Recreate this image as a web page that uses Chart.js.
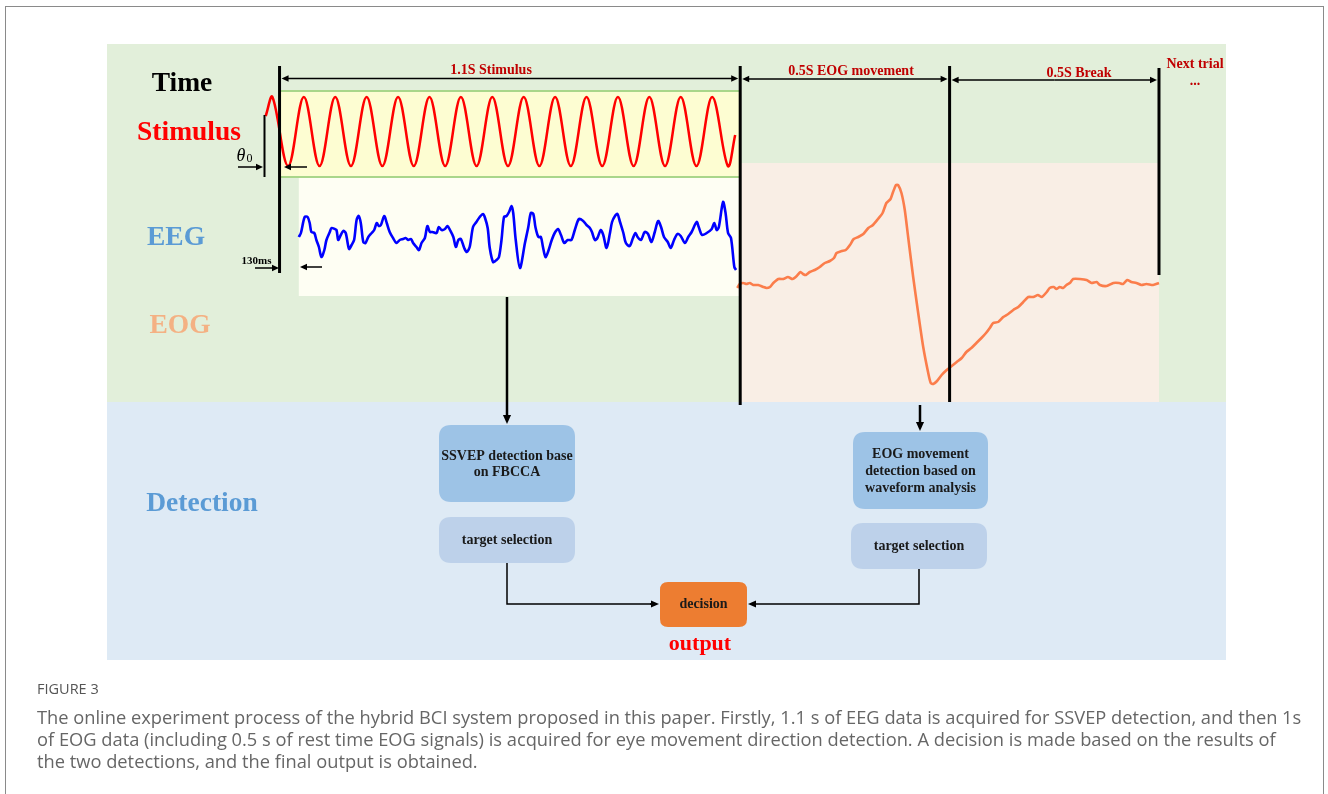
<!DOCTYPE html>
<html>
<head>
<meta charset="utf-8">
<script src="https://cdn.jsdelivr.net/npm/chart.js@4.4.1/dist/chart.umd.min.js"></script>
<style>
  body { margin: 0; background: #fff; width: 1328px; height: 794px; overflow: hidden; position: relative; }
  #frame { position: absolute; left: 5px; top: 6px; width: 1319px; height: 900px; border: 1.5px solid #8a8a8a; box-sizing: border-box; }
  #c { position: absolute; left: 0; top: 0; }
  #cap { position: absolute; left: 37px; top: 679px; font-family: "Open Sans", sans-serif; color: #666; }
  #cap .fig { font-size: 14.5px; color: #555; line-height: 20px; margin-bottom: 7px; }
  #cap .l { font-size: 18.3px; line-height: 22px; white-space: nowrap; }
</style>
</head>
<body>
<div id="frame"></div>
<canvas id="c" width="1328" height="794"></canvas>
<div id="cap">
  <div class="fig">FIGURE 3</div>
  <div class="l">The online experiment process of the hybrid BCI system proposed in this paper. Firstly, 1.1 s of EEG data is acquired for SSVEP detection, and then 1s</div>
  <div class="l">of EOG data (including 0.5 s of rest time EOG signals) is acquired for eye movement direction detection. A decision is made based on the results of</div>
  <div class="l">the two detections, and the final output is obtained.</div>
</div>
<script>
// Trial timeline (ms): stimulus, EOG movement, break
const phaseBounds = [0, 1100, 1600, 2100];
const phaseLabels = ['1.1S Stimulus', '0.5S EOG movement', '0.5S Break'];

// Stimulus flicker (normalised), read at its peaks and troughs
const stimT = [-33, -17, 20.5, 58, 95.5, 133, 170.5, 208, 245.5, 283, 320.5, 358, 395.5, 433, 470.5, 508,
  545.5, 583, 620.5, 658, 695.5, 733, 770.5, 808, 845.5, 883, 920.5, 958, 995.5, 1033, 1070.5, 1088];
const stimV = [0.45, 1, -1, 1, -1, 1, -1, 1, -1, 1, -1, 1, -1, 1, -1, 1,
  -1, 1, -1, 1, -1, 1, -1, 1, -1, 1, -1, 1, -1, 1, -1, -0.1];

// EEG trace (uV)
const eegT = [46, 51, 60, 67, 72, 76, 83, 88, 94, 100, 107, 112, 120, 124, 132, 136, 140, 144, 152, 158,
  166, 172, 178, 184, 189, 194, 200, 205, 212, 220, 226, 232, 237, 242, 250, 256, 263, 271, 279, 287,
  295, 301, 307, 314, 319, 327, 333, 339, 347, 353, 359, 365, 375, 380, 387, 395, 401, 407, 415, 421,
  427, 433, 441, 447, 454, 462, 470, 478, 486, 490, 497, 502, 510, 518, 524, 530, 536, 542, 548, 554,
  558, 564, 574, 586, 594, 600, 606, 611, 618, 624, 629, 635, 641, 650, 657, 665, 672, 680, 688, 697,
  705, 715, 725, 733, 741, 746, 753, 759, 767, 773, 781, 789, 794, 801, 807, 813, 821, 827, 836, 844,
  850, 855, 863, 872, 880, 888, 896, 904, 911, 918, 927, 934, 942, 950, 958, 968, 976, 984, 996, 1001,
  1009, 1020, 1032, 1038, 1044, 1049, 1059, 1065, 1071, 1078, 1086, 1090];
const eegV = [-5, -1, 15, 15, 9, 0, -1, -8, -15, -25, -18, -8, 0, 4, 3, 2, -8, -5, 1, -1,
  -17, -13, -8, 12, 16, 9, -10, -11, -5, -1, 2, 9, 6, 7, 16, 9, 0, -6, -11, -8,
  -7, -6, -8, -7, -11, -15, -18, -11, -6, 6, 0, 0, -1, 5, 2, 3, 6, 2, -5, -15,
  -8, -7, -16, -20, -15, 5, 10, 15, 18, 15, 4, -16, -30, -28, -25, -8, 15, 16, 20, 26,
  19, -8, -36, -11, 5, 19, 18, 5, -5, -5, -15, -25, -20, -8, -1, 3, -3, -11, -8, -8,
  2, 13, 11, 7, 4, 0, -8, -6, 2, -3, -16, -1, 10, 16, 18, 10, -1, -11, -14, -6,
  -1, -5, -8, 0, -2, -10, 0, 11, 5, -5, -10, -16, -8, -2, -4, -11, -5, 0, 10, 5,
  -3, -1, 3, 9, 2, 5, 30, 19, -1, -6, -35, -38];

// EOG trace (uV)
const eogT = [1093, 1099, 1107, 1115, 1123, 1131, 1143, 1155, 1163, 1171, 1179, 1191, 1203, 1214, 1225,
  1235, 1244, 1250, 1257, 1266, 1278, 1290, 1302, 1314, 1324, 1330, 1342, 1352, 1362, 1371, 1382, 1394,
  1406, 1417, 1429, 1440, 1449, 1459, 1465, 1472, 1477, 1485, 1493, 1501, 1513, 1525, 1537, 1549, 1555,
  1561, 1570, 1581, 1593, 1602, 1617, 1629, 1640, 1652, 1664, 1676, 1687, 1696, 1704, 1716, 1728, 1740,
  1752, 1764, 1776, 1788, 1800, 1811, 1820, 1832, 1839, 1849, 1855, 1863, 1871, 1879, 1887, 1895, 1911,
  1927, 1939, 1951, 1959, 1975, 1991, 2005, 2014, 2024, 2034, 2046, 2058, 2070, 2086, 2100];
const eogV = [-3, 1, 2, 1, 2, 0, 0, -2, -3, -2, 2, 6, 6, 8, 6, 9, 13, 11, 10, 13, 15, 18, 22, 24, 27,
  32, 34, 35, 40, 46, 48, 51, 57, 60, 66, 72, 82, 86, 93, 100, 100, 92, 75, 48, 8, -28, -62, -88, -98,
  -99, -96, -90, -85, -82, -77, -73, -67, -63, -58, -53, -48, -43, -38, -37, -32, -29, -25, -22, -17,
  -12, -12, -10, -12, -7, -3, -2, -4, -2, -3, 0, 2, 6, 6, 5, 2, 3, 0, -1, 2, 2, 1, 5, 3, 2, 0, 1, 0, 2];

function toPoints(xs, ys) {
  return xs.map((x, i) => ({ x: x, y: ys[i] }));
}

const SERIF = '"Liberation Serif", "Times New Roman", serif';

function roundRect(ctx, x, y, w, h, r) {
  ctx.beginPath();
  ctx.moveTo(x + r, y);
  ctx.lineTo(x + w - r, y);
  ctx.quadraticCurveTo(x + w, y, x + w, y + r);
  ctx.lineTo(x + w, y + h - r);
  ctx.quadraticCurveTo(x + w, y + h, x + w - r, y + h);
  ctx.lineTo(x + r, y + h);
  ctx.quadraticCurveTo(x, y + h, x, y + h - r);
  ctx.lineTo(x, y + r);
  ctx.quadraticCurveTo(x, y, x + r, y);
  ctx.closePath();
}

// line with a filled arrow head at (x2, y2)
function arrow(ctx, x1, y1, x2, y2, width, head) {
  const ang = Math.atan2(y2 - y1, x2 - x1);
  ctx.strokeStyle = '#000';
  ctx.fillStyle = '#000';
  ctx.lineWidth = width;
  ctx.beginPath();
  ctx.moveTo(x1, y1);
  ctx.lineTo(x2 - Math.cos(ang) * head * 0.8, y2 - Math.sin(ang) * head * 0.8);
  ctx.stroke();
  ctx.beginPath();
  ctx.moveTo(x2, y2);
  ctx.lineTo(x2 - Math.cos(ang) * head + Math.sin(ang) * head * 0.45, y2 - Math.sin(ang) * head - Math.cos(ang) * head * 0.45);
  ctx.lineTo(x2 - Math.cos(ang) * head - Math.sin(ang) * head * 0.45, y2 - Math.sin(ang) * head + Math.cos(ang) * head * 0.45);
  ctx.closePath();
  ctx.fill();
}

function text(ctx, str, x, y, font, color, align) {
  ctx.font = font;
  ctx.fillStyle = color;
  ctx.textAlign = align || 'center';
  ctx.textBaseline = 'alphabetic';
  ctx.fillText(str, x, y);
}

function box(ctx, x, y, w, h, color, lines, baselines) {
  ctx.fillStyle = color;
  roundRect(ctx, x, y, w, h, 12);
  ctx.fill();
  lines.forEach((l, i) => text(ctx, l, x + w / 2, baselines[i], 'bold 14px ' + SERIF, '#1a1a1a'));
}

const diagramPlugin = {
  id: 'diagram',
  beforeDatasetsDraw(chart) {
    const ctx = chart.ctx;
    const a = chart.chartArea;
    const xs = chart.scales.x;
    const bx = phaseBounds.map(t => xs.getPixelForValue(t));
    const split = 402;
    ctx.save();
    // acquisition (top) and detection (bottom) panels
    ctx.fillStyle = '#e2efda';
    ctx.fillRect(a.left, a.top, a.right - a.left, split - a.top);
    ctx.fillStyle = '#deeaf5';
    ctx.fillRect(a.left, split, a.right - a.left, a.bottom - split);
    // EOG window
    ctx.fillStyle = '#f9eee5';
    ctx.fillRect(bx[1], 163, bx[3] - bx[1], split - 163);
    // stimulus band
    ctx.fillStyle = '#fdfdd2';
    ctx.fillRect(bx[0], 90, bx[1] - bx[0], 87);
    ctx.strokeStyle = '#a9d68a';
    ctx.lineWidth = 2;
    ctx.beginPath();
    ctx.moveTo(bx[0], 91); ctx.lineTo(bx[1], 91);
    ctx.moveTo(bx[0], 177); ctx.lineTo(bx[1], 177);
    ctx.stroke();
    // EEG window
    const e0 = xs.getPixelForValue(eegT[0]);
    ctx.fillStyle = '#fefef3';
    ctx.fillRect(e0, 178, bx[1] - e0, 118);
    ctx.restore();
  },
  afterDatasetsDraw(chart) {
    const ctx = chart.ctx;
    const xs = chart.scales.x;
    const bx = phaseBounds.map(t => xs.getPixelForValue(t));
    ctx.save();

    // phase boundaries
    const lineTop = [66, 66, 66, 68];
    const lineBottom = [273, 405, 402, 275];
    ctx.strokeStyle = '#000';
    ctx.lineWidth = 3;
    bx.forEach((x, i) => {
      ctx.beginPath();
      ctx.moveTo(x, lineTop[i]);
      ctx.lineTo(x, lineBottom[i]);
      ctx.stroke();
    });

    // duration arrows and labels
    const arrowY = [78.5, 79, 80];
    const labelX = [491, 851, 1079];
    const labelY = [73.5, 75, 76.5];
    for (let i = 0; i < 3; i++) {
      const l = bx[i] + 2, r = bx[i + 1] - 2;
      arrow(ctx, (l + r) / 2, arrowY[i], l, arrowY[i], 1.3, 7);
      arrow(ctx, (l + r) / 2, arrowY[i], r, arrowY[i], 1.3, 7);
      text(ctx, phaseLabels[i], labelX[i], labelY[i], 'bold 14px ' + SERIF, '#c00000');
    }
    text(ctx, 'Next trial', 1195, 67.5, 'bold 14px ' + SERIF, '#c00000');
    text(ctx, '...', 1195, 85, 'bold 14px ' + SERIF, '#c00000');

    // row titles
    const big = 'bold 27.5px ' + SERIF;
    text(ctx, 'Time', 182, 91, big, '#000');
    text(ctx, 'Stimulus', 189, 139.5, big, '#ff0000');
    text(ctx, 'EEG', 176, 245, big, '#5b9bd5');
    text(ctx, 'EOG', 180, 333, big, '#f4b183');
    text(ctx, 'Detection', 202, 510.5, big, '#5b9bd5');

    // phase offset marker
    ctx.strokeStyle = '#000';
    ctx.lineWidth = 2;
    ctx.beginPath();
    ctx.moveTo(264.5, 115); ctx.lineTo(264.5, 177);
    ctx.stroke();
    arrow(ctx, 238, 167, 263, 167, 1.5, 7);
    arrow(ctx, 307, 167, 284, 167, 1.5, 7);
    ctx.font = 'italic 18px ' + SERIF;
    ctx.fillStyle = '#000';
    ctx.textAlign = 'left';
    ctx.fillText('\u03b8', 236.5, 160.5);
    ctx.font = '12px ' + SERIF;
    ctx.fillText('0', 246.5, 162);

    // EEG latency marker
    text(ctx, '130ms', 256.5, 264, 'bold 11px ' + SERIF, '#000');
    arrow(ctx, 255, 268, 279, 268, 1.5, 7);
    arrow(ctx, 322, 267, 300, 267, 1.5, 7);

    // signal to detection arrows
    arrow(ctx, 507, 297, 507, 424, 2.5, 9);
    arrow(ctx, 920, 405, 920, 431, 2.5, 9);

    // detection blocks
    box(ctx, 439, 425, 136, 77, '#9dc3e6', ['SSVEP detection base', 'on FBCCA'], [459.5, 476]);
    box(ctx, 439, 517, 136, 46, '#bdd1ea', ['target selection'], [543.5]);
    box(ctx, 853, 432, 135, 77, '#9dc3e6', ['EOG movement', 'detection based on', 'waveform analysis'], [457.5, 474.5, 491.5]);
    box(ctx, 851, 523, 136, 46, '#bdd1ea', ['target selection'], [550]);
    ctx.fillStyle = '#ed7d31';
    roundRect(ctx, 660, 582, 87, 45, 8);
    ctx.fill();
    text(ctx, 'decision', 703.5, 608, 'bold 14px ' + SERIF, '#1a1a1a');
    text(ctx, 'output', 700, 649.5, 'bold 22px ' + SERIF, '#ff0000');

    // connectors into decision
    ctx.strokeStyle = '#000';
    ctx.lineWidth = 1.5;
    ctx.beginPath();
    ctx.moveTo(507, 563); ctx.lineTo(507, 604); ctx.lineTo(652, 604);
    ctx.moveTo(919, 569); ctx.lineTo(919, 604); ctx.lineTo(754, 604);
    ctx.stroke();
    arrow(ctx, 650, 604, 659, 604, 1.5, 8);
    arrow(ctx, 756, 604, 748, 604, 1.5, 8);

    ctx.restore();
  }
};

new Chart(document.getElementById('c'), {
  type: 'line',
  data: {
    datasets: [
      {
        label: 'Stimulus',
        data: toPoints(stimT, stimV),
        yAxisID: 'yStim',
        borderColor: '#ff0000',
        borderWidth: 2.5,
        tension: 0.36,
        pointRadius: 0
      },
      {
        label: 'EEG',
        data: toPoints(eegT, eegV),
        yAxisID: 'yEeg',
        borderColor: '#0000ff',
        borderWidth: 2.6,
        tension: 0.3,
        pointRadius: 0
      },
      {
        label: 'EOG',
        data: toPoints(eogT, eogV),
        yAxisID: 'yEog',
        borderColor: '#fb7d4b',
        borderWidth: 2.6,
        tension: 0.2,
        pointRadius: 0
      }
    ]
  },
  options: {
    responsive: false,
    animation: false,
    devicePixelRatio: 1,
    layout: { padding: { left: 107, right: 102, top: 44, bottom: 134 } },
    plugins: {
      legend: { display: false },
      tooltip: { enabled: false },
      title: { display: false }
    },
    scales: {
      x: { type: 'linear', min: -412, max: 2260, display: false },
      yStim: { type: 'linear', min: -15.32, max: 2.536, display: false },
      yEeg: { type: 'linear', min: -428, max: 188, display: false },
      yEog: { type: 'linear', min: -375, max: 241, display: false }
    }
  },
  plugins: [diagramPlugin]
});
</script>
</body>
</html>
